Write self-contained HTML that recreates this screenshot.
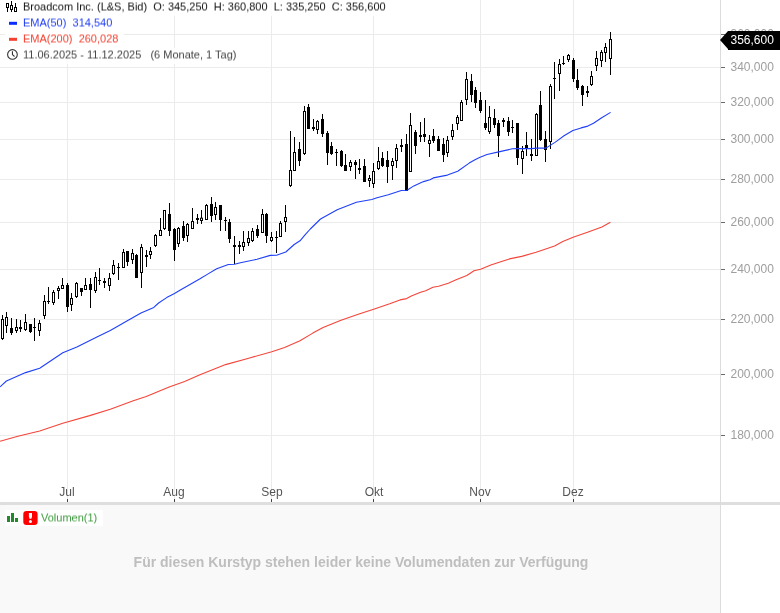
<!DOCTYPE html>
<html><head><meta charset="utf-8"><title>Broadcom Inc. Chart</title>
<style>
html,body{margin:0;padding:0;background:#fff;}
body{width:780px;height:613px;position:relative;overflow:hidden;font-family:"Liberation Sans",sans-serif;}
#root{position:absolute;left:0;top:0;width:780px;height:613px;will-change:transform;}
.vol{position:absolute;left:0;top:505px;width:720px;height:108px;background:#f9f9f9;}
.sep{position:absolute;left:0;top:502px;width:780px;height:3px;background:#dedede;}
.axisline{position:absolute;left:720px;top:0;width:1px;height:613px;background:#dcdcdc;}
.tick{position:absolute;left:721px;width:4px;height:1px;background:#6a6a6a;}
.yl{position:absolute;left:730.5px;font-size:12px;line-height:14px;color:#9e9e9e;white-space:nowrap;}
.xl{position:absolute;top:485px;width:40px;text-align:center;font-size:12px;line-height:14px;color:#555;}
.xt{position:absolute;top:499px;width:1px;height:3px;background:#444;}
.leg{position:absolute;left:5px;font-size:11px;line-height:13px;white-space:pre;background:rgba(255,255,255,0.85);padding-left:18px;padding-right:3px;height:16px;}
.leg span{display:inline-block;filter:url(#hs);}
.tag{position:absolute;left:728px;top:31px;width:52px;height:19px;background:#000;color:#fff;font-size:12px;line-height:19px;text-indent:2.5px;}
.tagarrow{position:absolute;left:720px;top:31px;width:0;height:0;border-top:9.5px solid transparent;border-bottom:9.5px solid transparent;border-right:8px solid #000;}
.msg{position:absolute;left:1px;top:553px;width:720px;text-align:center;font-size:14px;line-height:18px;font-weight:bold;color:#bebebe;}
.vleg{position:absolute;left:5px;top:510px;height:16px;width:98px;background:#fff;}
</style></head><body><div id="root">
<svg width="0" height="0" style="position:absolute"><defs><filter id="hs" x="0" y="0" width="100%" height="100%" color-interpolation-filters="sRGB"><feConvolveMatrix order="1 2" kernelMatrix="0.5 0.5" targetX="0" targetY="1" edgeMode="none" preserveAlpha="false"/></filter></defs></svg>
<div class="vol"></div>
<svg width="780" height="613" viewBox="0 0 780 613" style="position:absolute;left:0;top:0" shape-rendering="crispEdges">
<line x1="0" y1="34.5" x2="720" y2="34.5" stroke="#ebebeb" stroke-width="1"/>
<line x1="0" y1="67.5" x2="720" y2="67.5" stroke="#ebebeb" stroke-width="1"/>
<line x1="0" y1="102.5" x2="720" y2="102.5" stroke="#ebebeb" stroke-width="1"/>
<line x1="0" y1="139.5" x2="720" y2="139.5" stroke="#ebebeb" stroke-width="1"/>
<line x1="0" y1="179.5" x2="720" y2="179.5" stroke="#ebebeb" stroke-width="1"/>
<line x1="0" y1="222.5" x2="720" y2="222.5" stroke="#ebebeb" stroke-width="1"/>
<line x1="0" y1="269.5" x2="720" y2="269.5" stroke="#ebebeb" stroke-width="1"/>
<line x1="0" y1="319.5" x2="720" y2="319.5" stroke="#ebebeb" stroke-width="1"/>
<line x1="0" y1="374.5" x2="720" y2="374.5" stroke="#ebebeb" stroke-width="1"/>
<line x1="0" y1="435.5" x2="720" y2="435.5" stroke="#ebebeb" stroke-width="1"/>
<line x1="67.5" y1="0" x2="67.5" y2="503" stroke="#ebebeb" stroke-width="1"/>
<line x1="174.5" y1="0" x2="174.5" y2="503" stroke="#ebebeb" stroke-width="1"/>
<line x1="271.5" y1="0" x2="271.5" y2="503" stroke="#ebebeb" stroke-width="1"/>
<line x1="373.5" y1="0" x2="373.5" y2="503" stroke="#ebebeb" stroke-width="1"/>
<line x1="480.5" y1="0" x2="480.5" y2="503" stroke="#ebebeb" stroke-width="1"/>
<line x1="573.5" y1="0" x2="573.5" y2="503" stroke="#ebebeb" stroke-width="1"/>
</svg>
<svg width="780" height="613" viewBox="0 0 780 613" style="position:absolute;left:0;top:0">
<rect x="2" y="315" width="1" height="25" fill="#000"/>
<rect x="1" y="319" width="3" height="20" fill="#000"/>
<rect x="2" y="320" width="1" height="18" fill="#fff"/>
<rect x="6" y="312" width="1" height="21" fill="#000"/>
<rect x="5" y="317" width="3" height="9" fill="#000"/>
<rect x="6" y="318" width="1" height="7" fill="#fff"/>
<rect x="11" y="318" width="1" height="17" fill="#000"/>
<rect x="10" y="328" width="3" height="5" fill="#000"/>
<rect x="16" y="319" width="1" height="14" fill="#000"/>
<rect x="15" y="327" width="3" height="4" fill="#000"/>
<rect x="16" y="328" width="1" height="2" fill="#fff"/>
<rect x="20" y="320" width="1" height="12" fill="#000"/>
<rect x="19" y="327" width="3" height="2" fill="#000"/>
<rect x="25" y="314" width="1" height="17" fill="#000"/>
<rect x="24" y="322" width="3" height="8" fill="#000"/>
<rect x="25" y="323" width="1" height="6" fill="#fff"/>
<rect x="30" y="324" width="1" height="9" fill="#000"/>
<rect x="29" y="324" width="3" height="8" fill="#000"/>
<rect x="34" y="318" width="1" height="23" fill="#000"/>
<rect x="33" y="327" width="3" height="1" fill="#000"/>
<rect x="39" y="320" width="1" height="16" fill="#000"/>
<rect x="38" y="323" width="3" height="8" fill="#000"/>
<rect x="39" y="324" width="1" height="6" fill="#fff"/>
<rect x="44" y="295" width="1" height="24" fill="#000"/>
<rect x="43" y="301" width="3" height="15" fill="#000"/>
<rect x="44" y="302" width="1" height="13" fill="#fff"/>
<rect x="48" y="287" width="1" height="17" fill="#000"/>
<rect x="47" y="301" width="3" height="1" fill="#000"/>
<rect x="53" y="290" width="1" height="15" fill="#000"/>
<rect x="52" y="292" width="3" height="11" fill="#000"/>
<rect x="53" y="293" width="1" height="9" fill="#fff"/>
<rect x="58" y="286" width="1" height="13" fill="#000"/>
<rect x="57" y="288" width="3" height="3" fill="#000"/>
<rect x="58" y="289" width="1" height="1" fill="#fff"/>
<rect x="62" y="278" width="1" height="11" fill="#000"/>
<rect x="61" y="285" width="3" height="4" fill="#000"/>
<rect x="62" y="286" width="1" height="2" fill="#fff"/>
<rect x="67" y="283" width="1" height="29" fill="#000"/>
<rect x="66" y="285" width="3" height="22" fill="#000"/>
<rect x="71" y="293" width="1" height="18" fill="#000"/>
<rect x="70" y="298" width="3" height="7" fill="#000"/>
<rect x="71" y="299" width="1" height="5" fill="#fff"/>
<rect x="76" y="282" width="1" height="16" fill="#000"/>
<rect x="75" y="283" width="3" height="14" fill="#000"/>
<rect x="76" y="284" width="1" height="12" fill="#fff"/>
<rect x="81" y="288" width="1" height="8" fill="#000"/>
<rect x="80" y="288" width="3" height="4" fill="#000"/>
<rect x="85" y="278" width="1" height="12" fill="#000"/>
<rect x="84" y="285" width="3" height="5" fill="#000"/>
<rect x="85" y="286" width="1" height="3" fill="#fff"/>
<rect x="90" y="278" width="1" height="30" fill="#000"/>
<rect x="89" y="284" width="3" height="6" fill="#000"/>
<rect x="95" y="272" width="1" height="21" fill="#000"/>
<rect x="94" y="277" width="3" height="14" fill="#000"/>
<rect x="95" y="278" width="1" height="12" fill="#fff"/>
<rect x="99" y="268" width="1" height="17" fill="#000"/>
<rect x="98" y="280" width="3" height="1" fill="#000"/>
<rect x="104" y="278" width="1" height="10" fill="#000"/>
<rect x="103" y="281" width="3" height="2" fill="#000"/>
<rect x="109" y="273" width="1" height="18" fill="#000"/>
<rect x="108" y="278" width="3" height="8" fill="#000"/>
<rect x="109" y="279" width="1" height="6" fill="#fff"/>
<rect x="113" y="260" width="1" height="15" fill="#000"/>
<rect x="112" y="265" width="3" height="9" fill="#000"/>
<rect x="113" y="266" width="1" height="7" fill="#fff"/>
<rect x="118" y="263" width="1" height="17" fill="#000"/>
<rect x="117" y="267" width="3" height="1" fill="#000"/>
<rect x="123" y="249" width="1" height="19" fill="#000"/>
<rect x="122" y="252" width="3" height="16" fill="#000"/>
<rect x="123" y="253" width="1" height="14" fill="#fff"/>
<rect x="127" y="251" width="1" height="15" fill="#000"/>
<rect x="126" y="251" width="3" height="11" fill="#000"/>
<rect x="132" y="249" width="1" height="15" fill="#000"/>
<rect x="131" y="253" width="3" height="7" fill="#000"/>
<rect x="132" y="254" width="1" height="5" fill="#fff"/>
<rect x="136" y="254" width="1" height="24" fill="#000"/>
<rect x="135" y="255" width="3" height="23" fill="#000"/>
<rect x="141" y="244" width="1" height="44" fill="#000"/>
<rect x="140" y="247" width="3" height="26" fill="#000"/>
<rect x="141" y="248" width="1" height="24" fill="#fff"/>
<rect x="146" y="250" width="1" height="17" fill="#000"/>
<rect x="145" y="255" width="3" height="2" fill="#000"/>
<rect x="150" y="247" width="1" height="12" fill="#000"/>
<rect x="149" y="251" width="3" height="4" fill="#000"/>
<rect x="150" y="252" width="1" height="2" fill="#fff"/>
<rect x="155" y="234" width="1" height="13" fill="#000"/>
<rect x="154" y="235" width="3" height="11" fill="#000"/>
<rect x="155" y="236" width="1" height="9" fill="#fff"/>
<rect x="160" y="218" width="1" height="18" fill="#000"/>
<rect x="159" y="230" width="3" height="6" fill="#000"/>
<rect x="160" y="231" width="1" height="4" fill="#fff"/>
<rect x="164" y="210" width="1" height="20" fill="#000"/>
<rect x="163" y="210" width="3" height="19" fill="#000"/>
<rect x="164" y="211" width="1" height="17" fill="#fff"/>
<rect x="169" y="203" width="1" height="33" fill="#000"/>
<rect x="168" y="214" width="3" height="17" fill="#000"/>
<rect x="174" y="228" width="1" height="33" fill="#000"/>
<rect x="173" y="229" width="3" height="21" fill="#000"/>
<rect x="178" y="227" width="1" height="20" fill="#000"/>
<rect x="177" y="228" width="3" height="16" fill="#000"/>
<rect x="178" y="229" width="1" height="14" fill="#fff"/>
<rect x="183" y="221" width="1" height="20" fill="#000"/>
<rect x="182" y="226" width="3" height="12" fill="#000"/>
<rect x="187" y="223" width="1" height="19" fill="#000"/>
<rect x="186" y="224" width="3" height="12" fill="#000"/>
<rect x="187" y="225" width="1" height="10" fill="#fff"/>
<rect x="192" y="208" width="1" height="21" fill="#000"/>
<rect x="191" y="221" width="3" height="8" fill="#000"/>
<rect x="192" y="222" width="1" height="6" fill="#fff"/>
<rect x="197" y="214" width="1" height="10" fill="#000"/>
<rect x="196" y="218" width="3" height="2" fill="#000"/>
<rect x="201" y="210" width="1" height="14" fill="#000"/>
<rect x="200" y="217.7" width="3" height="3.3000000000000114" fill="#000"/>
<rect x="201" y="218.7" width="1" height="1.3000000000000114" fill="#fff"/>
<rect x="206" y="204" width="1" height="16" fill="#000"/>
<rect x="205" y="205" width="3" height="15" fill="#000"/>
<rect x="206" y="206" width="1" height="13" fill="#fff"/>
<rect x="211" y="197" width="1" height="25" fill="#000"/>
<rect x="210" y="204" width="3" height="12" fill="#000"/>
<rect x="215" y="202" width="1" height="18" fill="#000"/>
<rect x="214" y="207" width="3" height="8" fill="#000"/>
<rect x="215" y="208" width="1" height="6" fill="#fff"/>
<rect x="220" y="205" width="1" height="26" fill="#000"/>
<rect x="219" y="205" width="3" height="15" fill="#000"/>
<rect x="225" y="217" width="1" height="14" fill="#000"/>
<rect x="224" y="220" width="3" height="1" fill="#000"/>
<rect x="229" y="219" width="1" height="24" fill="#000"/>
<rect x="228" y="222" width="3" height="17" fill="#000"/>
<rect x="234" y="236" width="1" height="28" fill="#000"/>
<rect x="233" y="245" width="3" height="2" fill="#000"/>
<rect x="239" y="241" width="1" height="13" fill="#000"/>
<rect x="238" y="245" width="3" height="2" fill="#000"/>
<rect x="243" y="231" width="1" height="20" fill="#000"/>
<rect x="242" y="242" width="3" height="5" fill="#000"/>
<rect x="243" y="243" width="1" height="3" fill="#fff"/>
<rect x="248" y="231" width="1" height="15" fill="#000"/>
<rect x="247" y="238" width="3" height="5" fill="#000"/>
<rect x="248" y="239" width="1" height="3" fill="#fff"/>
<rect x="252" y="228" width="1" height="14" fill="#000"/>
<rect x="251" y="231" width="3" height="10" fill="#000"/>
<rect x="252" y="232" width="1" height="8" fill="#fff"/>
<rect x="257" y="225" width="1" height="13" fill="#000"/>
<rect x="256" y="229" width="3" height="7" fill="#000"/>
<rect x="262" y="209" width="1" height="24" fill="#000"/>
<rect x="261" y="214" width="3" height="19" fill="#000"/>
<rect x="262" y="215" width="1" height="17" fill="#fff"/>
<rect x="266" y="213" width="1" height="30" fill="#000"/>
<rect x="265" y="214" width="3" height="22" fill="#000"/>
<rect x="271" y="232" width="1" height="10" fill="#000"/>
<rect x="270" y="237" width="3" height="4" fill="#000"/>
<rect x="271" y="238" width="1" height="2" fill="#fff"/>
<rect x="276" y="231" width="1" height="22" fill="#000"/>
<rect x="275" y="237" width="3" height="1" fill="#000"/>
<rect x="280" y="221" width="1" height="16" fill="#000"/>
<rect x="279" y="223" width="3" height="14" fill="#000"/>
<rect x="280" y="224" width="1" height="12" fill="#fff"/>
<rect x="285" y="205" width="1" height="27" fill="#000"/>
<rect x="284" y="217" width="3" height="5" fill="#000"/>
<rect x="285" y="218" width="1" height="3" fill="#fff"/>
<rect x="290" y="131" width="1" height="56" fill="#000"/>
<rect x="289" y="170" width="3" height="16" fill="#000"/>
<rect x="290" y="171" width="1" height="14" fill="#fff"/>
<rect x="294" y="137" width="1" height="34" fill="#000"/>
<rect x="293" y="152" width="3" height="19" fill="#000"/>
<rect x="294" y="153" width="1" height="17" fill="#fff"/>
<rect x="299" y="142" width="1" height="24" fill="#000"/>
<rect x="298" y="149" width="3" height="12" fill="#000"/>
<rect x="304" y="106" width="1" height="49" fill="#000"/>
<rect x="303" y="111" width="3" height="43" fill="#000"/>
<rect x="304" y="112" width="1" height="41" fill="#fff"/>
<rect x="308" y="104" width="1" height="25" fill="#000"/>
<rect x="307" y="107" width="3" height="22" fill="#000"/>
<rect x="313" y="119" width="1" height="12" fill="#000"/>
<rect x="312" y="127" width="3" height="2" fill="#000"/>
<rect x="317" y="120" width="1" height="14" fill="#000"/>
<rect x="316" y="121" width="3" height="9" fill="#000"/>
<rect x="317" y="122" width="1" height="7" fill="#fff"/>
<rect x="322" y="114" width="1" height="23" fill="#000"/>
<rect x="321" y="119" width="3" height="15" fill="#000"/>
<rect x="327" y="131" width="1" height="34" fill="#000"/>
<rect x="326" y="133" width="3" height="20" fill="#000"/>
<rect x="331" y="142" width="1" height="13" fill="#000"/>
<rect x="330" y="146" width="3" height="8" fill="#000"/>
<rect x="336" y="149" width="1" height="17" fill="#000"/>
<rect x="335" y="152" width="3" height="1" fill="#000"/>
<rect x="341" y="150" width="1" height="17" fill="#000"/>
<rect x="340" y="151" width="3" height="15" fill="#000"/>
<rect x="345" y="154" width="1" height="17" fill="#000"/>
<rect x="344" y="165" width="3" height="6" fill="#000"/>
<rect x="350" y="160" width="1" height="11" fill="#000"/>
<rect x="349" y="162" width="3" height="5" fill="#000"/>
<rect x="350" y="163" width="1" height="3" fill="#fff"/>
<rect x="355" y="160" width="1" height="19" fill="#000"/>
<rect x="354" y="162" width="3" height="3" fill="#000"/>
<rect x="359" y="159" width="1" height="15" fill="#000"/>
<rect x="358" y="168" width="3" height="2" fill="#000"/>
<rect x="364" y="159" width="1" height="23" fill="#000"/>
<rect x="363" y="166" width="3" height="16" fill="#000"/>
<rect x="369" y="175" width="1" height="12" fill="#000"/>
<rect x="368" y="178" width="3" height="3" fill="#000"/>
<rect x="369" y="179" width="1" height="1" fill="#fff"/>
<rect x="373" y="163" width="1" height="25" fill="#000"/>
<rect x="372" y="171" width="3" height="13" fill="#000"/>
<rect x="373" y="172" width="1" height="11" fill="#fff"/>
<rect x="378" y="147" width="1" height="23" fill="#000"/>
<rect x="377" y="161" width="3" height="8" fill="#000"/>
<rect x="378" y="162" width="1" height="6" fill="#fff"/>
<rect x="382" y="152" width="1" height="15" fill="#000"/>
<rect x="381" y="158" width="3" height="8" fill="#000"/>
<rect x="387" y="151" width="1" height="32" fill="#000"/>
<rect x="386" y="160" width="3" height="7" fill="#000"/>
<rect x="392" y="158" width="1" height="22" fill="#000"/>
<rect x="391" y="161" width="3" height="5" fill="#000"/>
<rect x="392" y="162" width="1" height="3" fill="#fff"/>
<rect x="396" y="144" width="1" height="24" fill="#000"/>
<rect x="395" y="148" width="3" height="13" fill="#000"/>
<rect x="396" y="149" width="1" height="11" fill="#fff"/>
<rect x="401" y="139" width="1" height="13" fill="#000"/>
<rect x="400" y="145" width="3" height="2" fill="#000"/>
<rect x="406" y="134" width="1" height="57" fill="#000"/>
<rect x="405" y="144" width="3" height="47" fill="#000"/>
<rect x="410" y="113" width="1" height="59" fill="#000"/>
<rect x="409" y="125" width="3" height="47" fill="#000"/>
<rect x="410" y="126" width="1" height="45" fill="#fff"/>
<rect x="415" y="130" width="1" height="24" fill="#000"/>
<rect x="414" y="132" width="3" height="14" fill="#000"/>
<rect x="420" y="122" width="1" height="20" fill="#000"/>
<rect x="419" y="135" width="3" height="2" fill="#000"/>
<rect x="424" y="118" width="1" height="24" fill="#000"/>
<rect x="423" y="134" width="3" height="3" fill="#000"/>
<rect x="429" y="135" width="1" height="22" fill="#000"/>
<rect x="428" y="140" width="3" height="4" fill="#000"/>
<rect x="429" y="141" width="1" height="2" fill="#fff"/>
<rect x="433" y="129" width="1" height="14" fill="#000"/>
<rect x="432" y="136" width="3" height="5" fill="#000"/>
<rect x="438" y="136" width="1" height="15" fill="#000"/>
<rect x="437" y="139" width="3" height="12" fill="#000"/>
<rect x="443" y="138" width="1" height="24" fill="#000"/>
<rect x="442" y="144" width="3" height="11" fill="#000"/>
<rect x="447" y="136" width="1" height="21" fill="#000"/>
<rect x="446" y="140" width="3" height="13" fill="#000"/>
<rect x="447" y="141" width="1" height="11" fill="#fff"/>
<rect x="452" y="124" width="1" height="16" fill="#000"/>
<rect x="451" y="130" width="3" height="7" fill="#000"/>
<rect x="452" y="131" width="1" height="5" fill="#fff"/>
<rect x="457" y="115" width="1" height="15" fill="#000"/>
<rect x="456" y="117" width="3" height="7" fill="#000"/>
<rect x="457" y="118" width="1" height="5" fill="#fff"/>
<rect x="461" y="100" width="1" height="21" fill="#000"/>
<rect x="460" y="102" width="3" height="19" fill="#000"/>
<rect x="461" y="103" width="1" height="17" fill="#fff"/>
<rect x="466" y="72" width="1" height="33" fill="#000"/>
<rect x="465" y="79" width="3" height="21" fill="#000"/>
<rect x="466" y="80" width="1" height="19" fill="#fff"/>
<rect x="471" y="74" width="1" height="28" fill="#000"/>
<rect x="470" y="81" width="3" height="14" fill="#000"/>
<rect x="475" y="87" width="1" height="21" fill="#000"/>
<rect x="474" y="90" width="3" height="13" fill="#000"/>
<rect x="480" y="92" width="1" height="21" fill="#000"/>
<rect x="479" y="100" width="3" height="11" fill="#000"/>
<rect x="485" y="100" width="1" height="30" fill="#000"/>
<rect x="484" y="123" width="3" height="5" fill="#000"/>
<rect x="489" y="106" width="1" height="28" fill="#000"/>
<rect x="488" y="117" width="3" height="15" fill="#000"/>
<rect x="489" y="118" width="1" height="13" fill="#fff"/>
<rect x="494" y="109" width="1" height="19" fill="#000"/>
<rect x="493" y="118" width="3" height="7" fill="#000"/>
<rect x="498" y="120" width="1" height="37" fill="#000"/>
<rect x="497" y="123" width="3" height="13" fill="#000"/>
<rect x="503" y="118" width="1" height="9" fill="#000"/>
<rect x="502" y="120" width="3" height="2" fill="#000"/>
<rect x="508" y="117" width="1" height="19" fill="#000"/>
<rect x="507" y="121" width="3" height="11" fill="#000"/>
<rect x="512" y="120" width="1" height="13" fill="#000"/>
<rect x="511" y="127" width="3" height="1" fill="#000"/>
<rect x="517" y="123" width="1" height="42" fill="#000"/>
<rect x="516" y="123" width="3" height="35" fill="#000"/>
<rect x="522" y="146" width="1" height="28" fill="#000"/>
<rect x="521" y="151" width="3" height="8" fill="#000"/>
<rect x="522" y="152" width="1" height="6" fill="#fff"/>
<rect x="526" y="132" width="1" height="24" fill="#000"/>
<rect x="525" y="145" width="3" height="3" fill="#000"/>
<rect x="531" y="139" width="1" height="22" fill="#000"/>
<rect x="530" y="154" width="3" height="2" fill="#000"/>
<rect x="536" y="113" width="1" height="43" fill="#000"/>
<rect x="535" y="114" width="3" height="42" fill="#000"/>
<rect x="536" y="115" width="1" height="40" fill="#fff"/>
<rect x="540" y="91" width="1" height="50" fill="#000"/>
<rect x="539" y="105" width="3" height="35" fill="#000"/>
<rect x="545" y="131" width="1" height="31" fill="#000"/>
<rect x="544" y="139" width="3" height="11" fill="#000"/>
<rect x="550" y="84" width="1" height="65" fill="#000"/>
<rect x="549" y="86" width="3" height="56" fill="#000"/>
<rect x="550" y="87" width="1" height="54" fill="#fff"/>
<rect x="554" y="62" width="1" height="37" fill="#000"/>
<rect x="553" y="78" width="3" height="1" fill="#000"/>
<rect x="559" y="59" width="1" height="32" fill="#000"/>
<rect x="558" y="64" width="3" height="10" fill="#000"/>
<rect x="559" y="65" width="1" height="8" fill="#fff"/>
<rect x="563" y="56" width="1" height="9" fill="#000"/>
<rect x="562" y="63" width="3" height="1" fill="#000"/>
<rect x="568" y="54" width="1" height="8" fill="#000"/>
<rect x="567" y="55" width="3" height="5" fill="#000"/>
<rect x="568" y="56" width="1" height="3" fill="#fff"/>
<rect x="573" y="58" width="1" height="24" fill="#000"/>
<rect x="572" y="60" width="3" height="19" fill="#000"/>
<rect x="577" y="69" width="1" height="21" fill="#000"/>
<rect x="576" y="80" width="3" height="8" fill="#000"/>
<rect x="582" y="85" width="1" height="21" fill="#000"/>
<rect x="581" y="86" width="3" height="9" fill="#000"/>
<rect x="587" y="86" width="1" height="11" fill="#000"/>
<rect x="586" y="91" width="3" height="2" fill="#000"/>
<rect x="591" y="71" width="1" height="15" fill="#000"/>
<rect x="590" y="76" width="3" height="9" fill="#000"/>
<rect x="591" y="77" width="1" height="7" fill="#fff"/>
<rect x="596" y="51" width="1" height="20" fill="#000"/>
<rect x="595" y="58" width="3" height="8" fill="#000"/>
<rect x="596" y="59" width="1" height="6" fill="#fff"/>
<rect x="601" y="50" width="1" height="17" fill="#000"/>
<rect x="600" y="52" width="3" height="9" fill="#000"/>
<rect x="601" y="53" width="1" height="7" fill="#fff"/>
<rect x="605" y="43" width="1" height="19" fill="#000"/>
<rect x="604" y="47" width="3" height="6" fill="#000"/>
<rect x="605" y="48" width="1" height="4" fill="#fff"/>
<rect x="610" y="32" width="1" height="43" fill="#000"/>
<rect x="609" y="39" width="3" height="20" fill="#000"/>
<rect x="610" y="40" width="1" height="18" fill="#fff"/>
</svg>
<svg width="780" height="613" viewBox="0 0 780 613" style="position:absolute;left:0;top:0">
<path d="M0.0 441.3 L17.9 436.2 L39.7 431.0 L62.8 423.3 L89.7 415.6 L110.3 409.2 L133.3 400.8 L146.2 396.4 L169.2 386.9 L184.6 381.5 L200.0 374.8 L225.6 364.6 L248.7 358.2 L271.8 351.8 L284.6 347.4 L300.0 340.8 L312.8 333.1 L323.1 327.4 L341.0 320.3 L359.0 314.1 L374.4 309.0 L389.7 303.8 L400.0 299.9 L406.7 298.6 L411.3 296.0 L420.6 292.2 L425.7 290.7 L432.9 287.3 L438.6 286.2 L448.3 283.2 L455.5 280.1 L466.8 275.5 L474.0 270.8 L480.6 269.2 L490.8 265.1 L500.0 261.9 L509.4 258.9 L521.7 256.4 L536.1 252.3 L554.6 245.9 L562.8 241.4 L573.1 237.3 L587.5 232.2 L601.9 227.0 L610.4 222.3" fill="none" stroke="#f4453a" stroke-width="1.1" stroke-linejoin="round"/>
<path d="M0.0 386.9 L6.4 381.0 L25.6 372.6 L39.7 368.2 L62.8 352.8 L76.9 346.9 L97.4 336.7 L110.3 330.5 L128.2 320.3 L141.0 313.1 L153.8 307.4 L158.6 303.0 L166.7 297.6 L174.5 293.4 L179.5 290.5 L200.0 278.8 L207.7 274.1 L216.7 268.8 L228.4 264.5 L234.5 264.3 L240.4 262.7 L257.0 259.3 L270.3 255.4 L276.6 255.3 L285.8 252.0 L294.2 244.5 L300.0 240.8 L305.0 234.9 L310.3 229.0 L320.5 219.0 L337.2 209.7 L356.4 202.3 L371.8 199.5 L377.0 197.7 L388.3 194.8 L401.3 190.5 L407.1 190.3 L413.8 185.9 L423.5 181.6 L430.0 179.8 L433.3 177.9 L447.4 175.1 L457.7 171.3 L469.2 163.1 L475.0 159.8 L479.5 157.6 L487.0 154.5 L498.7 151.9 L512.3 148.8 L517.0 148.6 L531.5 148.6 L536.7 148.1 L546.0 148.1 L551.0 144.9 L555.0 142.4 L558.1 140.1 L564.0 135.8 L572.9 130.5 L581.1 127.9 L587.8 126.1 L593.5 123.3 L601.7 117.8 L610.6 112.4" fill="none" stroke="#1f40fa" stroke-width="1.1" stroke-linejoin="round"/>
</svg>
<div class="sep"></div>
<div class="axisline"></div>
<div class="tick" style="top:67px"></div><div class="yl" style="top:60px">340,000</div><div class="tick" style="top:102px"></div><div class="yl" style="top:95px">320,000</div><div class="tick" style="top:139px"></div><div class="yl" style="top:132px">300,000</div><div class="tick" style="top:179px"></div><div class="yl" style="top:172px">280,000</div><div class="tick" style="top:222px"></div><div class="yl" style="top:215px">260,000</div><div class="tick" style="top:269px"></div><div class="yl" style="top:262px">240,000</div><div class="tick" style="top:319px"></div><div class="yl" style="top:312px">220,000</div><div class="tick" style="top:374px"></div><div class="yl" style="top:367px">200,000</div><div class="tick" style="top:435px"></div><div class="yl" style="top:428px">180,000</div><div class="tick" style="top:34px"></div><div class="yl" style="top:27px">360,000</div>
<div class="xl" style="left:47px">Jul</div><div class="xt" style="left:67px"></div><div class="xl" style="left:154px">Aug</div><div class="xt" style="left:174px"></div><div class="xl" style="left:252px">Sep</div><div class="xt" style="left:271px"></div><div class="xl" style="left:354px">Okt</div><div class="xt" style="left:373px"></div><div class="xl" style="left:460px">Nov</div><div class="xt" style="left:480px"></div><div class="xl" style="left:553px">Dez</div><div class="xt" style="left:573px"></div>
<div class="tagarrow"></div><div class="tag">356,600</div>
<div class="leg" style="top:0px;color:#111;line-height:13px"><span>Broadcom Inc. (L&amp;S, Bid)  O: 345,250  H: 360,800  L: 335,250  C: 356,600</span></div>
<div class="leg" style="top:16px;color:#1f3df5"><span>EMA(50)  314,540</span></div>
<div class="leg" style="top:32px;color:#f4402f;padding-right:6px"><span>EMA(200)  260,028</span></div>
<div class="leg" style="top:48px;color:#444"><span>11.06.2025 - 11.12.2025   (6 Monate, 1 Tag)</span></div>
<svg width="30" height="64" viewBox="0 0 30 64" style="position:absolute;left:0;top:0">
<g fill="#000" shape-rendering="crispEdges">
<rect x="6" y="3" width="3" height="5"/><rect x="7" y="8" width="1" height="4"/>
<rect x="11" y="1.4" width="1" height="10.6"/><rect x="10" y="5" width="3" height="5"/>
<rect x="15" y="3.2" width="1" height="4"/><rect x="14" y="7" width="3" height="5"/>
</g>
<g fill="#fff" shape-rendering="crispEdges"><rect x="7" y="4" width="1" height="3"/><rect x="11" y="6" width="1" height="3"/><rect x="15" y="8" width="1" height="3"/></g>
<rect x="9" y="21.8" width="8" height="3" fill="#0a2cff"/>
<rect x="9" y="37.8" width="8" height="3" fill="#f4402f"/>
<circle cx="12.45" cy="54.45" r="4.85" fill="none" stroke="#333" stroke-width="1.1"/>
<path d="M12.45 51.2 V54.6 L14.5 56.5" fill="none" stroke="#333" stroke-width="1.1"/>
</svg>
<div class="vleg"></div>
<svg width="40" height="20" viewBox="0 0 40 20" style="position:absolute;left:0;top:508px">
<rect x="7" y="8" width="3" height="6" fill="#238a2c"/><rect x="11" y="5" width="3" height="9" fill="#238a2c"/><rect x="15" y="10" width="3" height="4" fill="#238a2c"/>
<rect x="23.3" y="2.9" width="14.3" height="14.1" rx="3.2" fill="#fe0000"/>
<path d="M28.9 4.9 H32 V8.6 L31.4 10.8 H29.5 L28.9 8.6 Z" fill="#fff"/><circle cx="30.45" cy="13.4" r="1.5" fill="#fff"/>
</svg>
<div style="position:absolute;left:41px;top:511px;font-size:11px;line-height:13px;color:#3c9a3c;filter:url(#hs)">Volumen(1)</div>
<div class="msg">Für diesen Kurstyp stehen leider keine Volumendaten zur Verfügung</div>
</div></body></html>
